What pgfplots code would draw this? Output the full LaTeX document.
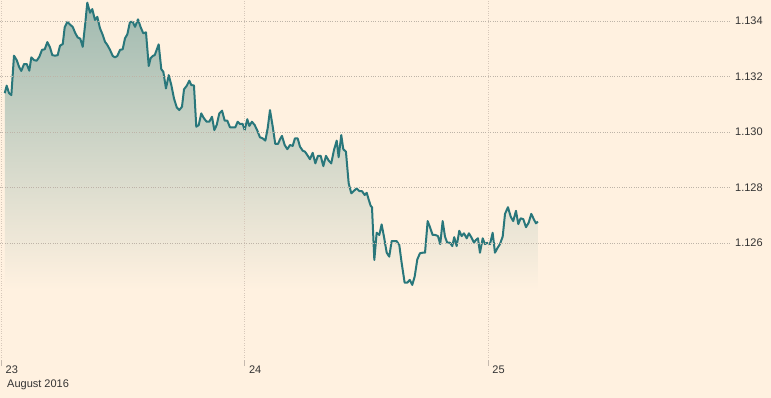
\documentclass[border=0pt]{standalone}
\usepackage{pgfplots}
\pgfplotsset{compat=1.18}
\usepackage{pgfplotstable}
\usepackage{fontspec}
\setmainfont{Liberation Sans}
\definecolor{bg}{RGB}{255,241,224}
\definecolor{linecol}{RGB}{41,119,123}
\definecolor{fillcol}{RGB}{160,186,176}
\definecolor{gridcol}{RGB}{190,180,168}
\definecolor{vgridcol}{RGB}{215,200,186}
\definecolor{txt}{RGB}{51,51,51}
\pgfplotstableread{
h v
0.32 1.13140
0.51 1.13167
0.74 1.13140
0.97 1.13133
1.23 1.13275
1.50 1.13259
1.73 1.13235
1.95 1.13220
2.22 1.13245
2.49 1.13245
2.74 1.13221
2.94 1.13269
3.21 1.13259
3.47 1.13257
3.73 1.13271
3.99 1.13296
4.26 1.13298
4.52 1.13324
4.78 1.13305
5.01 1.13277
5.28 1.13275
5.54 1.13277
5.77 1.13311
6.04 1.13317
6.23 1.13377
6.49 1.13397
6.76 1.13387
7.02 1.13379
7.28 1.13356
7.51 1.13341
7.77 1.13336
8.01 1.13307
8.26 1.13392
8.46 1.13466
8.73 1.13430
8.95 1.13443
9.22 1.13404
9.45 1.13415
9.71 1.13374
9.98 1.13350
10.21 1.13325
10.43 1.13314
10.70 1.13296
10.97 1.13274
11.19 1.13269
11.42 1.13274
11.69 1.13296
11.95 1.13298
12.18 1.13338
12.41 1.13352
12.67 1.13397
12.94 1.13397
13.17 1.13379
13.46 1.13406
13.73 1.13377
13.98 1.13356
14.25 1.13359
14.52 1.13238
14.71 1.13266
14.91 1.13274
15.11 1.13277
15.50 1.13316
15.76 1.13226
15.96 1.13217
16.22 1.13157
16.49 1.13205
16.75 1.13169
17.01 1.13121
17.28 1.13089
17.53 1.13079
17.80 1.13091
18.00 1.13154
18.26 1.13166
18.52 1.13185
18.72 1.13169
18.98 1.13168
19.21 1.13019
19.45 1.13025
19.70 1.13067
19.97 1.13049
20.24 1.13037
20.49 1.13037
20.76 1.13055
20.99 1.13007
21.22 1.13025
21.48 1.13067
21.75 1.13077
22.01 1.13041
22.27 1.13041
22.53 1.13017
22.80 1.13017
23.06 1.13017
23.29 1.13037
23.52 1.13029
23.79 1.13029
23.98 1.13007
24.24 1.13046
24.44 1.13022
24.70 1.13037
24.97 1.13025
25.23 1.13005
25.49 1.12981
25.76 1.12977
26.02 1.12969
26.25 1.13013
26.48 1.13079
26.75 1.13019
27.00 1.12957
27.27 1.12957
27.47 1.12974
27.66 1.12986
27.93 1.12953
28.19 1.12938
28.45 1.12953
28.72 1.12950
28.94 1.12977
29.21 1.12977
29.44 1.12947
29.70 1.12933
29.93 1.12929
30.16 1.12917
30.42 1.12902
30.69 1.12925
30.95 1.12887
31.21 1.12914
31.48 1.12914
31.74 1.12877
32.00 1.12914
32.27 1.12897
32.52 1.12887
32.79 1.12935
33.06 1.12969
33.25 1.12909
33.51 1.12989
33.71 1.12938
33.97 1.12929
34.24 1.12815
34.50 1.12779
34.76 1.12788
35.03 1.12797
35.29 1.12787
35.55 1.12787
35.82 1.12773
36.02 1.12781
36.21 1.12757
36.41 1.12734
36.54 1.12729
36.77 1.12539
37.00 1.12637
37.26 1.12629
37.49 1.12667
37.72 1.12623
37.99 1.12565
38.24 1.12551
38.48 1.12607
38.71 1.12607
38.97 1.12607
39.23 1.12593
39.47 1.12527
39.76 1.12457
40.02 1.12457
40.26 1.12467
40.51 1.12449
40.75 1.12479
41.01 1.12541
41.27 1.12563
41.54 1.12565
41.77 1.12565
42.03 1.12679
42.26 1.12657
42.52 1.12629
42.78 1.12629
43.05 1.12625
43.27 1.12596
43.51 1.12679
43.74 1.12623
43.96 1.12601
44.23 1.12601
44.46 1.12589
44.65 1.12621
44.89 1.12589
45.15 1.12644
45.38 1.12625
45.61 1.12635
45.88 1.12617
46.10 1.12635
46.33 1.12621
46.60 1.12601
46.79 1.12611
46.99 1.12617
47.19 1.12565
47.46 1.12617
47.68 1.12596
47.91 1.12601
48.18 1.12596
48.44 1.12637
48.67 1.12565
48.90 1.12581
49.16 1.12596
49.43 1.12623
49.66 1.12705
49.95 1.12729
50.22 1.12695
50.47 1.12679
50.74 1.12716
50.97 1.12668
51.20 1.12689
51.46 1.12686
51.73 1.12657
51.99 1.12673
52.25 1.12705
52.51 1.12685
52.71 1.12671
52.91 1.12677
}\fxdata
\begin{document}
\begin{tikzpicture}
\fill[bg] (0,-38bp) rectangle (771bp,360bp);
\begin{axis}[
  at={(0,0)}, anchor=south west,
  scale only axis, width=730bp, height=360bp,
  xmin=-0.15, xmax=71.85, ymin=1.121784, ymax=1.134757,
  axis line style={draw=none},
  axis on top,
  xtick={0,24,48}, xticklabels={23,24,25},
  ytick={1.126,1.128,1.130,1.132,1.134},
  xtick pos=bottom, ytick pos=right,
  yticklabel pos=right,
  tick align=outside,
  xmajorgrids, ymajorgrids,
  x grid style={vgridcol, dotted, line width=0.8pt},
  y grid style={gridcol, dotted, line width=0.8pt},
  ytick style={draw=none},
  xtick style={draw=vgridcol!80!gray, solid, line width=0.8pt},
  major tick length=6bp,
  ticklabel style={font=\fontsize{11bp}{13bp}\selectfont, text=txt},
  yticklabel style={anchor=west, inner sep=0pt, xshift=-1bp, /pgf/number format/.cd, fixed, fixed zerofill, precision=3, assume math mode=true},
  xticklabel style={anchor=north west, inner sep=0pt, xshift=4bp, yshift=0bp},
  clip=false,
]
\addplot[draw=none, top color=fillcol, bottom color=bg] table[x=h, y=v] {\fxdata} -- (axis cs:52.91,1.12431) -- (axis cs:0.32,1.12431) -- cycle;
\addplot[linecol, line width=2bp, line join=round] table[x=h, y=v] {\fxdata};
\node[anchor=north west, inner sep=0pt, font=\fontsize{11bp}{13bp}\selectfont, text=txt] at (rel axis cs:0,0) [xshift=7bp, yshift=-20bp] {August 2016};
\end{axis}
\pgfresetboundingbox
\path (0,-38bp) rectangle (771bp,360bp);
\end{tikzpicture}
\end{document}
